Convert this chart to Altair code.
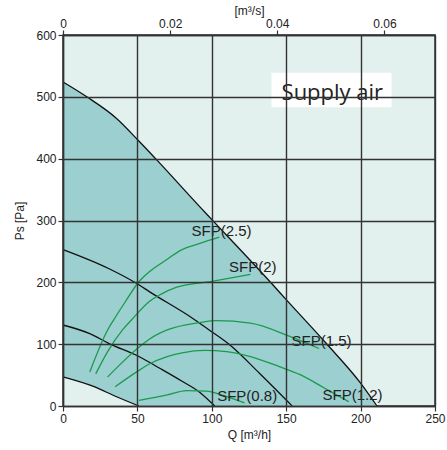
import altair as alt
import pandas as pd

# ---- data ----
# fan curves (Q [m3/h], Ps [Pa])
max_q = [0, 16, 36, 50, 63, 92, 101, 141, 150, 177, 200, 211]
max_pa = [524, 500, 465, 431, 398, 322, 299, 196, 172, 101, 37, 0]
fan3_q = [0, 31, 51, 58, 87, 100, 112, 132, 154]
fan3_pa = [253, 222, 196, 185, 142, 120, 99, 53, 0]
fan2_q = [0, 18, 31, 51, 65, 80, 92, 102]
fan2_pa = [131, 117, 101, 80, 61, 40, 22, 0]
fan1_q = [0, 20, 36, 51]
fan1_pa = [47, 32, 15, 0]

# SFP curves
sfp25_q = [18, 30, 34, 42, 51, 58, 68, 80, 92, 105]
sfp25_pa = [55, 123, 139, 169, 201, 217, 234, 253, 263, 273]
sfp2_q = [22, 30, 40, 46, 58, 66, 76, 101, 126]
sfp2_pa = [52, 88, 123, 139, 169, 181, 192, 202, 213]
sfp15_q = [30, 40, 50, 58, 70, 92, 103, 126, 152, 172]
sfp15_pa = [47, 71, 93, 108, 123, 135, 138, 134, 113, 93]
sfp12_q = [35, 50, 58, 70, 80, 95, 110, 126, 145, 159, 175, 192]
sfp12_pa = [31, 56, 68, 80, 86, 90, 88, 80, 64, 51, 30, 7]
sfp08_q = [51, 60, 70, 83, 96, 108, 114, 122]
sfp08_pa = [9, 13, 18, 25, 24, 17, 12, 5]

label_text = ["SFP(2.5)", "SFP(2)", "SFP(1.5)", "SFP(1.2)", "SFP(0.8)"]
label_q = [86.4, 111.6, 153.6, 174.4, 103.6]
label_pa = [283.5, 225.3, 105, 17.8, 16.2]

box_q = [140.1, 220.8]
box_pa = [483, 539]
box_text = "Supply air"
box_text_q = 181
box_text_pa = 495

x_ticks = [0, 50, 100, 150, 200, 250]
y_ticks = [0, 100, 200, 300, 400, 500, 600]
top_ticks = [0, 0.02, 0.04, 0.06]


def series(name, qs, pas):
    return pd.DataFrame({"q": qs, "pa": pas, "curve": name, "i": list(range(len(qs)))})


fan_df = pd.concat([
    series("max", max_q, max_pa),
    series("fan3", fan3_q, fan3_pa),
    series("fan2", fan2_q, fan2_pa),
    series("fan1", fan1_q, fan1_pa),
])
sfp_df = pd.concat([
    series("2.5", sfp25_q, sfp25_pa),
    series("2", sfp2_q, sfp2_pa),
    series("1.5", sfp15_q, sfp15_pa),
    series("1.2", sfp12_q, sfp12_pa),
    series("0.8", sfp08_q, sfp08_pa),
])
lab_df = pd.DataFrame({"t": label_text, "q": label_q, "pa": label_pa})
box_df = pd.DataFrame({"q": [box_q[0]], "q2": [box_q[1]], "pa": [box_pa[0]], "pa2": [box_pa[1]],
                       "t": [box_text], "tq": [box_text_q], "tpa": [box_text_pa]})

FONT = "Liberation Sans"
GRID = "#333333"

xaxis = alt.Axis(values=x_ticks, title="Q [m³/h]", grid=True, zindex=1,
                 labelFlush=False, titlePadding=5, labelPadding=2)
yaxis = alt.Axis(values=y_ticks, title="Ps [Pa]", grid=True, zindex=1,
                 labelFlush=False, titlePadding=9, labelPadding=2)
XS = alt.Scale(domain=[0, 250], nice=False, zero=False)
YS = alt.Scale(domain=[0, 600], nice=False, zero=False)
X = alt.X("q:Q", scale=XS, axis=xaxis)
Y = alt.Y("pa:Q", scale=YS, axis=yaxis)

area_max = alt.Chart(series("max", max_q, max_pa)).mark_area(
    fill="#9ccfcf", strokeWidth=0, opacity=1, interpolate="monotone").encode(x=X, y=Y)
area_low = alt.Chart(series("fan1", fan1_q, fan1_pa)).mark_area(
    fill="#e2f0ee", strokeWidth=0, opacity=1, interpolate="monotone").encode(x=X, y=Y)

fan_lines = alt.Chart(fan_df).mark_line(
    color="#111111", strokeWidth=1.3, interpolate="monotone").encode(
    x=X, y=Y, detail="curve:N", order="i:Q")
sfp_lines = alt.Chart(sfp_df).mark_line(
    color="#1a9b4b", strokeWidth=1.3, interpolate="monotone").encode(
    x=X, y=Y, detail="curve:N", order="i:Q")

labels = alt.Chart(lab_df).mark_text(
    align="left", baseline="middle", font=FONT, fontSize=15, color="#222222").encode(
    x=X, y=Y, text="t:N")

box = alt.Chart(box_df).mark_rect(color="white").encode(
    x=X, x2="q2:Q", y=Y, y2="pa2:Q")
box_label = alt.Chart(box_df).mark_text(
    align="center", baseline="alphabetic", font="Open Sans", fontSize=22, color="#222222").encode(
    x=alt.X("tq:Q", scale=XS, axis=xaxis),
    y=alt.Y("tpa:Q", scale=YS, axis=yaxis),
    text="t:N")

main = alt.layer(area_max, area_low, fan_lines, sfp_lines, box, box_label, labels)

top = alt.Chart(pd.DataFrame({"qs": [0.0, 250 / 3600]})).mark_point(opacity=0).encode(
    x=alt.X("qs:Q", scale=alt.Scale(domain=[0, 250 / 3600], nice=False, zero=False),
            axis=alt.Axis(orient="top", values=top_ticks, title="[m³/s]", grid=False,
                          labelExpr="datum.value == 0 ? '0' : format(datum.value, '.2f')",
                          labelFlush=False, titlePadding=0, labelPadding=0)),
    y=alt.value(0))

chart = alt.layer(main, top).resolve_scale(x="independent").properties(
    width=372, height=371,
    autosize=alt.AutoSizeParams(type="none"),
    padding={"left": 63, "top": 35, "right": 12, "bottom": 44},
    background="white",
).configure_view(
    fill="#e2f0ee", stroke=GRID, strokeWidth=1.5
).configure_axis(
    labelFont=FONT, titleFont=FONT, labelFontSize=12, titleFontSize=12,
    titleFontWeight="normal", labelColor="#222222", titleColor="#222222",
    domainColor=GRID, tickColor=GRID, gridColor=GRID, gridWidth=1.4,
    domainWidth=1.4, tickWidth=1.2, tickSize=5, gridOpacity=1,
)

chart.save("out.html", embed_options={"renderer": "svg", "actions": False})
